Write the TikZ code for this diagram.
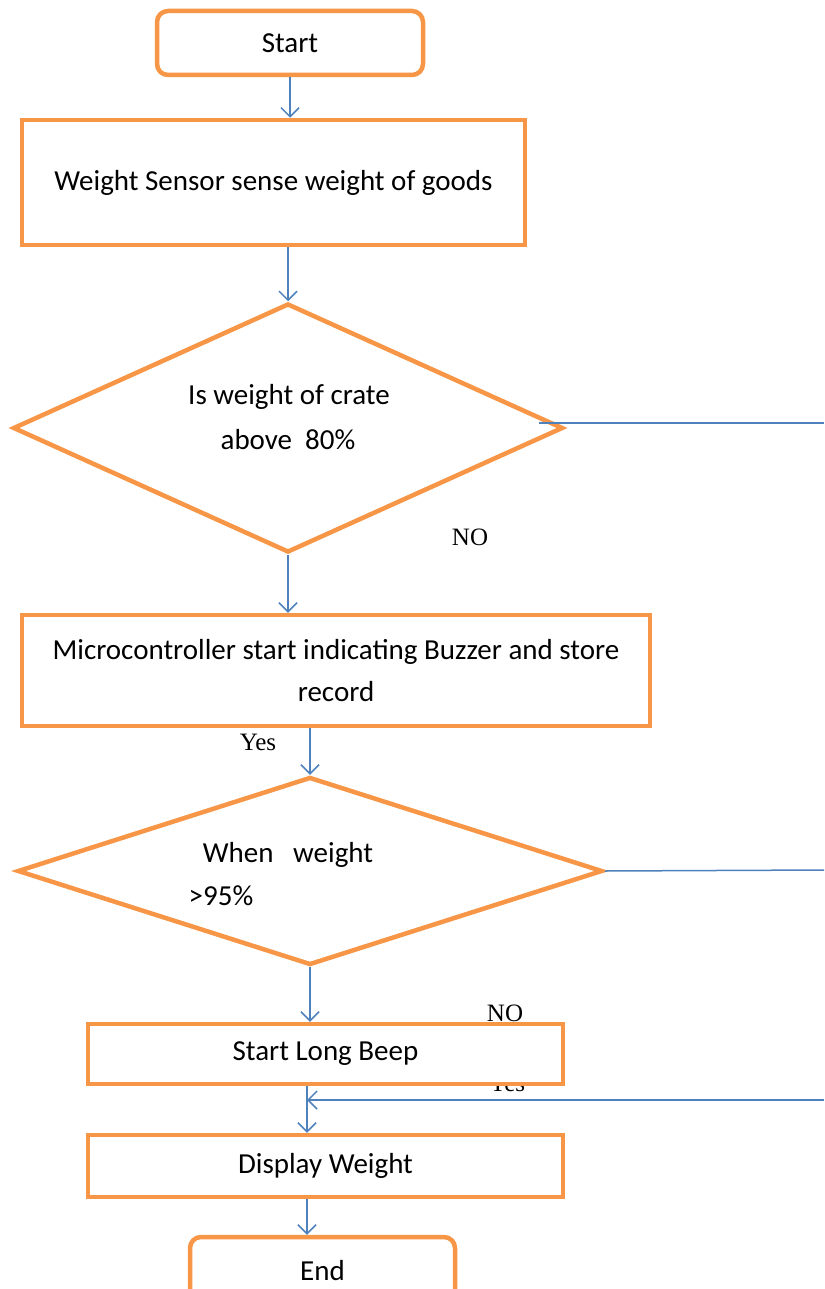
\documentclass[tikz,border=0pt]{standalone}
\usepackage{fontspec}
\setmainfont{Carlito}
\newfontfamily\serifnote{Liberation Serif}
\usetikzlibrary{arrows.meta,shapes.geometric}
\definecolor{boxorange}{RGB}{247,150,70}
\definecolor{flowblue}{RGB}{79,129,189}
\tikzset{
  stepbox/.style={draw=boxorange,line width=4.5pt,fill=white,minimum height=#1,inner sep=0pt,font=\fontsize{29}{42}\selectfont,align=center},
  stepbox/.default=62pt,
  termbox/.style={stepbox=#1,rounded corners=11pt},
  termbox/.default=64pt,
  decision/.style={draw=boxorange,line width=4.5pt,diamond,inner sep=0pt},
  flow/.style={draw=flowblue,line width=1.5pt,-{Straight Barb[length=9pt,width=18pt,line width=1.5pt]}},
  plainflow/.style={draw=flowblue,line width=1.5pt},
  caption/.style={font=\fontsize{29}{35}\selectfont,inner sep=0pt},
  answer/.style={font=\serifnote\fontsize{25}{30}\selectfont,inner sep=0pt}
}
\begin{document}
\begin{tikzpicture}[x=1pt,y=-1pt]
  \useasboundingbox (0,0) rectangle (824,1289);
  \clip (0,0) rectangle (824,1289);

  % boxes
  \node[termbox,minimum width=266pt] (start) at (290,43) {Start};
  \node[stepbox=125pt,minimum width=503pt] (sense) at (273.5,182.5) {Weight Sensor sense weight of goods};
  \node[decision,minimum width=550pt,minimum height=249pt] (d1) at (288,428) {};
  \node[caption] (d1a) at (289,397) {Is weight of crate};
  \node[caption] (d1b) at (288,440) {above\ \ 80\%};
  \node[stepbox=111pt,minimum width=628pt] (micro) at (336,670.5)
    {Microcontroller start indicating Buzzer and store\\record};
  \node[decision,minimum width=585pt,minimum height=188pt] (d2) at (310,871) {};
  \node[caption] (d2a) at (288,855) {When\ \ \ weight};
  \node[caption] (d2b) at (221,896) {>95\%};
  \node[answer] (yes2) at (507,1083) {Yes};
  \node[stepbox=60pt,minimum width=475pt] (beep) at (325.5,1054) {Start Long Beep};
  \node[stepbox=62pt,minimum width=475pt] (show) at (325.5,1166) {Display Weight};
  \node[termbox=68pt,minimum width=265pt] (stop) at (322.5,1271) {End};

  % labels
  \node[answer] (no1) at (470,537) {NO};
  \node[answer] (yes1) at (258,742) {Yes};
  \node[answer] (no2) at (505,1013) {NO};

  % free ends at the right border
  \coordinate (r1) at (824,423);
  \coordinate (r2) at (824,870);
  \coordinate (r3) at (824,1100);
  \coordinate (m) at (307,1100);

  % connectors
  \draw[flow] (start) -- (start |- sense.north);
  \draw[flow] (d1.north |- sense.south) -- (d1.north);
  \draw[flow] (d1.south) -- (d1.south |- micro.north);
  \draw[flow] (d2.north |- micro.south) -- (d2.north);
  \draw[flow] (d2.south) -- (d2.south |- beep.north);
  \draw[flow] (m |- beep.south) -- (m |- show.north);
  \draw[flow] (m |- show.south) -- (m |- stop.north);
  \draw[plainflow] ([xshift=-26pt]d1.east |- r1) -- (r1);
  \draw[plainflow] (d2.east) -- (r2);
  \draw[flow] (r3) -- (m);
\end{tikzpicture}
\end{document}
